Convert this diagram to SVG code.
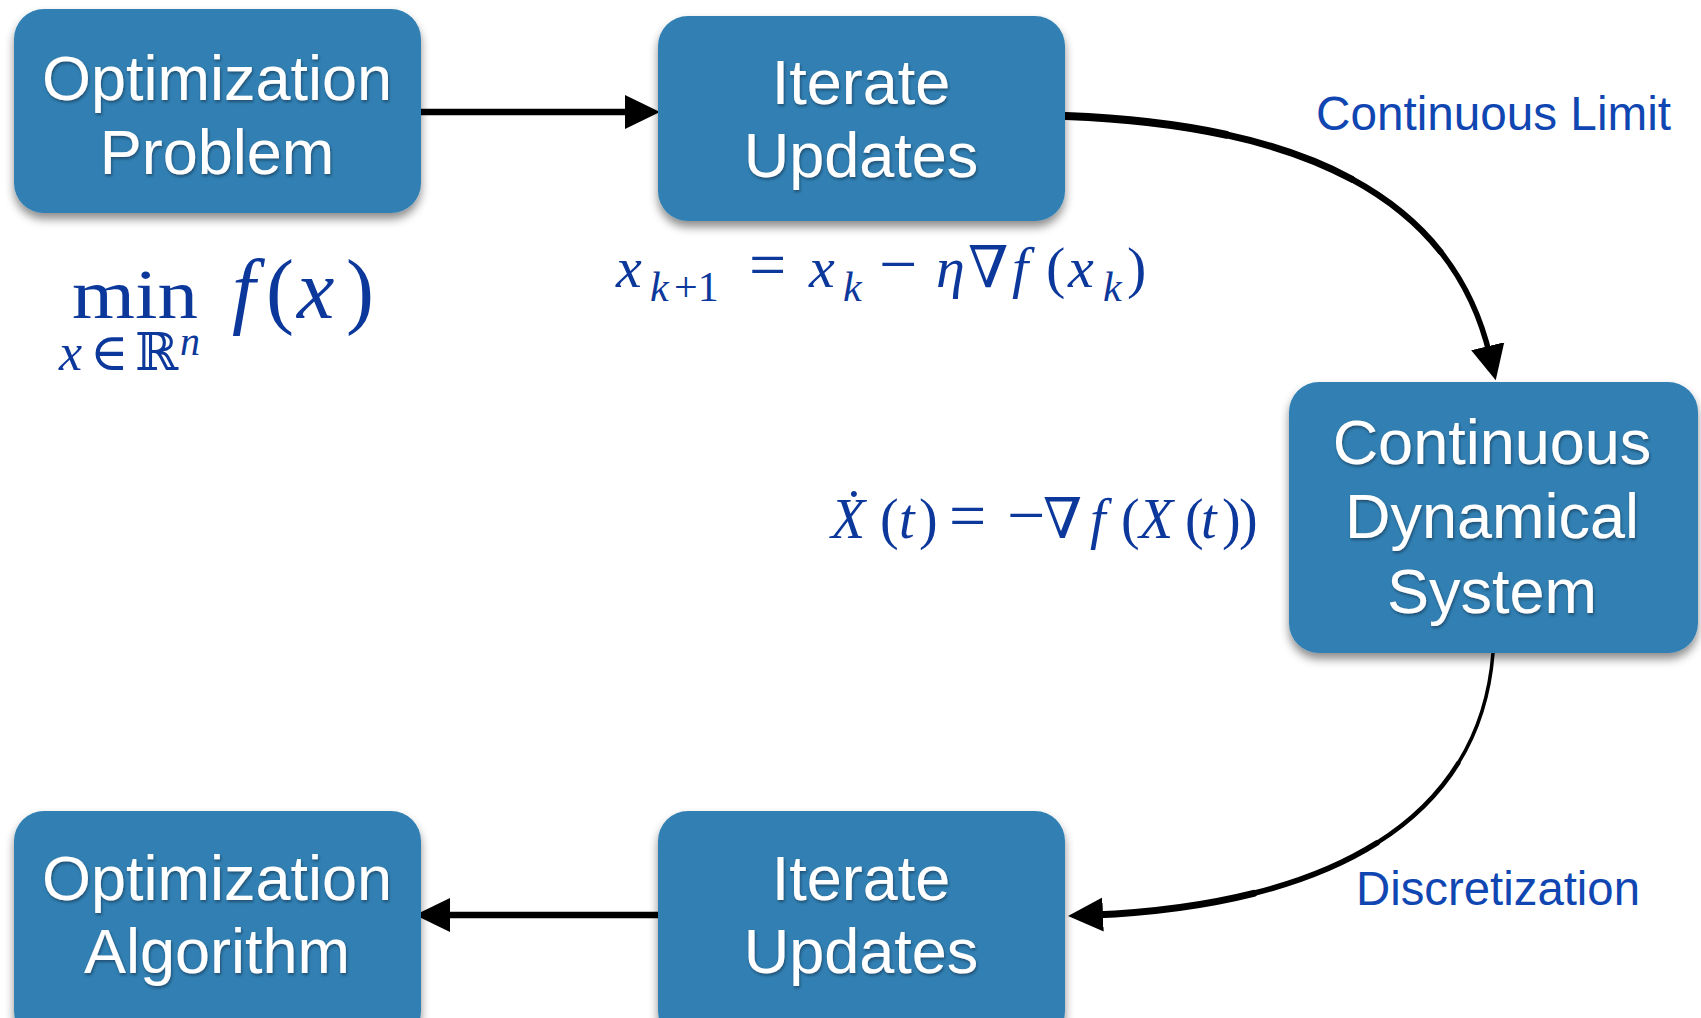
<svg xmlns="http://www.w3.org/2000/svg" width="1701" height="1018" viewBox="0 0 1701 1018">
<defs>
<filter id="boxShadow" x="-10%" y="-10%" width="120%" height="130%">
<feDropShadow dx="0" dy="6" stdDeviation="5" flood-color="#000" flood-opacity="0.45"/>
</filter>
<filter id="txtShadow" x="-5%" y="-20%" width="110%" height="150%">
<feDropShadow dx="1" dy="2" stdDeviation="1.5" flood-color="#0a2a45" flood-opacity="0.6"/>
</filter>
<marker id="head" markerUnits="userSpaceOnUse" markerWidth="36" markerHeight="36" refX="10" refY="17" orient="auto" viewBox="0 0 36 34">
<path d="M0,0 L35,17 L0,34 Z" fill="#000"/>
</marker>
</defs>
<style>
.box{fill:#3180b3;filter:url(#boxShadow);}
.lbl{font-family:"Liberation Sans",Arial,sans-serif;font-size:63px;fill:#ffffff;text-anchor:middle;filter:url(#txtShadow);}
.edge{fill:none;stroke:#000;stroke-width:6.5;}
.seg{fill:none;stroke:#000;stroke-linecap:round;}
.end{marker-end:url(#head);}
.note{font-family:"Liberation Sans",Arial,sans-serif;font-size:48px;fill:#1046b2;}
.math{font-family:"Liberation Serif","DejaVu Serif",serif;fill:#0c389c;}
.it{font-style:italic;}
</style>
<rect width="1701" height="1018" fill="#ffffff"/>

<g id="connectors">
<path class="edge end" d="M421,112 L635,112"/>
<path class="seg" stroke-width="8" d="M1066,116 C1124.5,118.25 1177.9,124.3 1225.6,134.65"/>
<path class="seg" stroke-width="7" d="M1225.6,134.65 C1273.4,145 1315.5,159.6 1351.5,179"/>
<path class="seg" stroke-width="6.2" d="M1351.5,179 C1387.5,198.4 1417.4,222.5 1440.6,251.8"/>
<path class="seg end" stroke-width="5.5" d="M1440.6,251.8 C1463.9,281.2 1480.5,315.75 1490,356"/>
<path class="seg" stroke-width="3.5" d="M1493,653 C1489.75,694.75 1477.94,731.4 1458.3,763"/>
<path class="seg" stroke-width="4.5" d="M1458.3,763 C1438.75,794.6 1411.375,821.2 1377,842.9"/>
<path class="seg" stroke-width="5.7" d="M1377,842.9 C1342.6,864.6 1301.25,881.35 1253.7,893.3"/>
<path class="seg end" stroke-width="7" d="M1253.7,893.3 C1206.1,905.3 1152.25,912.5 1093,915"/>
<path class="edge end" d="M658,915 L440,915"/>
</g>

<g id="node-opt-problem">
<rect class="box" x="14" y="9" width="407" height="204" rx="30"/>
<text class="lbl" x="217" y="100">Optimization</text>
<text class="lbl" x="217" y="174">Problem</text>
</g>

<g id="node-iterate-top">
<rect class="box" x="658" y="16" width="407" height="205" rx="30"/>
<text class="lbl" x="861" y="104">Iterate</text>
<text class="lbl" x="861" y="177">Updates</text>
</g>

<g id="node-continuous">
<rect class="box" x="1289" y="382" width="409" height="271" rx="30"/>
<text class="lbl" x="1492" y="464">Continuous</text>
<text class="lbl" x="1492" y="538">Dynamical</text>
<text class="lbl" x="1492" y="613">System</text>
</g>

<g id="node-opt-algorithm">
<rect class="box" x="14" y="811" width="407" height="230" rx="30"/>
<text class="lbl" x="217" y="900">Optimization</text>
<text class="lbl" x="217" y="973">Algorithm</text>
</g>

<g id="node-iterate-bottom">
<rect class="box" x="658" y="811" width="407" height="230" rx="30"/>
<text class="lbl" x="861" y="900">Iterate</text>
<text class="lbl" x="861" y="973">Updates</text>
</g>

<g id="labels">
<text class="note" x="1316" y="130" textLength="355" lengthAdjust="spacingAndGlyphs">Continuous Limit</text>
<text class="note" x="1356" y="905" textLength="284" lengthAdjust="spacingAndGlyphs">Discretization</text>
</g>

<g id="formula-min">
<text class="math" x="72" y="318" font-size="70" textLength="126" lengthAdjust="spacingAndGlyphs">min</text>
<text class="math" font-size="84"><tspan class="it" x="232" y="318">f</tspan><tspan x="266" y="318">(</tspan><tspan class="it" x="297" y="318">x</tspan><tspan x="346" y="318">)</tspan></text>
<text class="math" font-size="52"><tspan class="it" x="59" y="370">x</tspan><tspan x="90" y="370">∈</tspan><tspan x="135" y="370">ℝ</tspan><tspan class="it" x="180" y="355" font-size="40">n</tspan></text>
</g>

<g id="formula-update">
<text class="math" font-size="58"><tspan class="it" x="616" y="287">x</tspan><tspan class="it" x="650" y="301" font-size="42">k</tspan><tspan x="674" y="301" font-size="42">+1</tspan><tspan x="749" y="287" font-size="66">=</tspan><tspan class="it" x="809" y="287">x</tspan><tspan class="it" x="843" y="301" font-size="42">k</tspan><tspan x="879" y="287" font-size="68">−</tspan><tspan class="it" x="936" y="287">η</tspan><tspan x="968" y="287">∇</tspan><tspan class="it" x="1012" y="287">f</tspan><tspan x="1046" y="287">(</tspan><tspan class="it" x="1068" y="287">x</tspan><tspan class="it" x="1103" y="301" font-size="42">k</tspan><tspan x="1127" y="287">)</tspan></text>
</g>

<g id="formula-ode">
<text class="math" font-size="56"><tspan class="it" x="831" y="538">Ẋ</tspan><tspan x="880" y="538">(</tspan><tspan class="it" x="899" y="538">t</tspan><tspan x="919" y="538">)</tspan><tspan x="949" y="538" font-size="66">=</tspan><tspan x="1007" y="538" font-size="68">−</tspan><tspan x="1043" y="538">∇</tspan><tspan class="it" x="1090" y="538">f</tspan><tspan x="1121" y="538">(</tspan><tspan class="it" x="1139" y="538">X</tspan><tspan x="1185" y="538">(</tspan><tspan class="it" x="1201" y="538">t</tspan><tspan x="1222" y="538">)</tspan><tspan x="1239" y="538">)</tspan></text>
</g>
</svg>
